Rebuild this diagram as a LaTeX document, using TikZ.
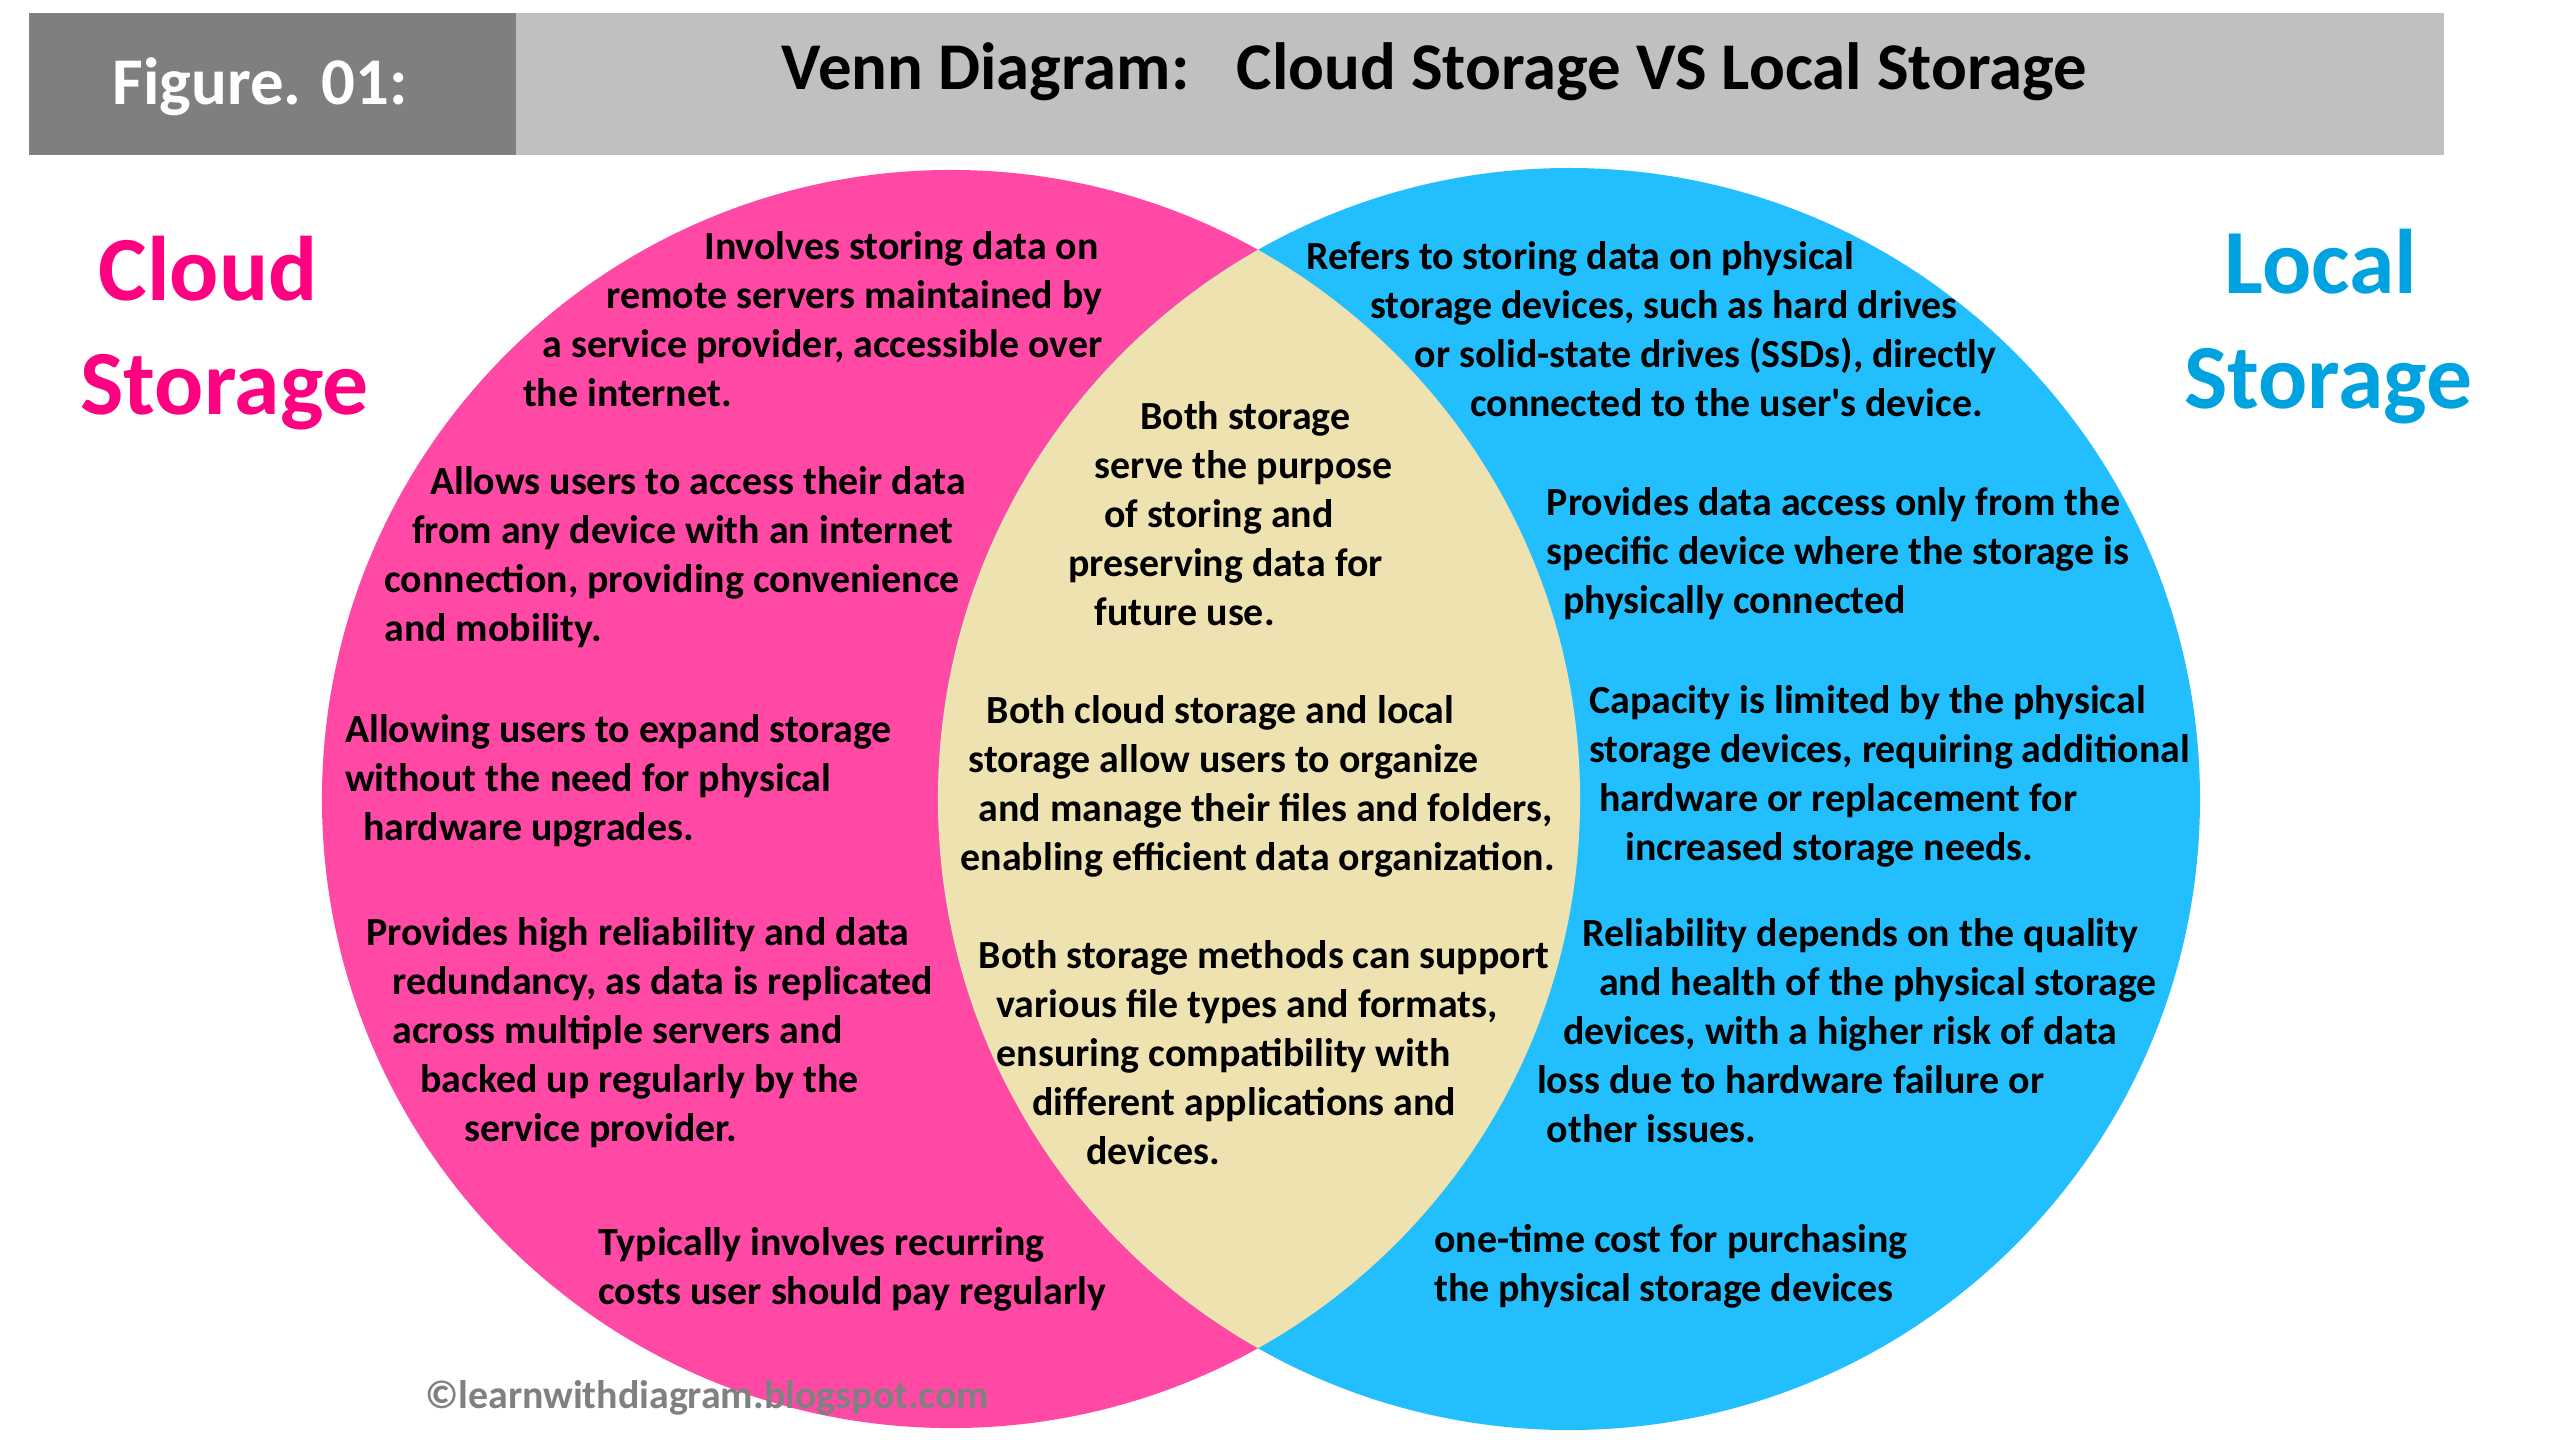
\documentclass[tikz,border=0pt]{standalone}
\usepackage{fontspec}
\setmainfont{Carlito}
\usepackage{xcolor}
\usetikzlibrary{positioning}
\definecolor{CloudPink}{RGB}{255,73,165}
\definecolor{LocalBlue}{RGB}{35,190,254}
\definecolor{BothSand}{RGB}{239,226,177}
\definecolor{CloudTitle}{RGB}{255,0,128}
\definecolor{LocalTitle}{RGB}{0,163,224}
\definecolor{BarLight}{RGB}{192,192,192}
\definecolor{BarDark}{RGB}{127,127,127}
\definecolor{MarkGray}{RGB}{128,128,128}
\tikzset{
  % texte dans les cercles
  txt/.style={anchor=base west,inner sep=0,font=\fontsize{11.35}{13.94}\selectfont\bfseries},
  big title/.style={anchor=base,inner sep=0,font=\fontsize{26.1}{32}\selectfont\bfseries},
  bar title/.style={anchor=base,inner sep=0,font=\fontsize{19}{23}\selectfont\bfseries},
  % cercles
  set cloud/.style={fill=CloudPink},
  set local/.style={fill=LocalBlue},
  set both/.style={fill=BothSand}
}

\begin{document}
\begin{tikzpicture}[x=0.016327cm,y=-0.016327cm]
  \fill[white] (0,0) rectangle (1568,882);
  \useasboundingbox (0,0) rectangle (1568,882);

  % bandeau du haut
  \fill[BarLight] (18,8) rectangle (1497,95);
  \fill[BarDark] (18,8) rectangle (316,95);
  \node[bar title,white] (fig) at (159.5,64) {Figure. 01:};
  \node[bar title] (head) at (878.5,55) {Venn Diagram:\hspace{0.71em}Cloud Storage VS Local Storage};

  % les deux ensembles
  \coordinate (cloud) at (582.5,489.4);
  \coordinate (local) at (961,489.4);
  \fill[set cloud] (cloud) circle [radius=385.3];
  \fill[set local] (local) circle [radius=386.5];
  \begin{scope}
    \clip (cloud) circle [radius=385.3];
    \fill[set both] (local) circle [radius=386.5];
  \end{scope}

  \node[big title,CloudTitle] (cloudA) at (127.5,184) {Cloud};
  \node[big title,CloudTitle] (cloudB) at (137.5,254) {Storage};
  \node[big title,LocalTitle] (localA) at (1421.5,180) {Local};
  \node[big title,LocalTitle] (localB) at (1426,250) {Storage};

  % cloud storage
  \foreach \x/\y/\t [count=\i] in {
      431/159/{Involves storing data on},
      371/189/{remote servers maintained by},
      332/219/{a service provider, accessible over},
      320/249/{the internet.},
      263/303/{Allows users to access their data},
      252/333/{from any device with an internet},
      235/363/{connection, providing convenience},
      235/393/{and mobility.},
      211/455/{Allowing users to expand storage},
      211/485/{without the need for physical},
      222/515/{hardware upgrades.},
      224/579/{Provides high reliability and data},
      240/609/{redundancy, as data is replicated},
      240/639/{across multiple servers and},
      257/669/{backed up regularly by the},
      284/699/{service provider.},
      366/769/{Typically involves recurring},
      366/799/{costs user should pay regularly}}
    \node[txt] (cloud\i) at (\x,\y) {\t};

  % both
  \foreach \x/\y/\t [count=\i] in {
      698/263/{Both storage},
      670/293/{serve the purpose},
      676/323/{of storing and},
      654/353/{preserving data for},
      670/383/{future use.},
      604/443/{Both cloud storage and local},
      593/473/{storage allow users to organize},
      599/503/{and manage their files and folders,},
      588/533/{enabling efficient data organization.},
      599/593/{Both storage methods can support},
      610/623/{various file types and formats,},
      610/653/{ensuring compatibility with},
      632/683/{different applications and},
      665/713/{devices.}}
    \node[txt] (both\i) at (\x,\y) {\t};

  % local storage
  \foreach \x/\y/\t [count=\i] in {
      800/165/{Refers to storing data on physical},
      839/195/{storage devices, such as hard drives},
      866/225/{or solid-state drives (SSDs), directly},
      900/255/{connected to the user\textquotesingle s device.},
      947/316/{Provides data access only from the},
      947/346/{specific device where the storage is},
      957/376/{physically connected},
      973/437/{Capacity is limited by the physical},
      973/467/{storage devices, requiring additional},
      979/497/{hardware or replacement for},
      995/527/{increased storage needs.},
      969/580/{Reliability depends on the quality},
      979/610/{and health of the physical storage},
      957/640/{devices, with a higher risk of data},
      941/670/{loss due to hardware failure or},
      947/700/{other issues.},
      878/767/{one-time cost for purchasing},
      878/797/{the physical storage devices}}
    \node[txt] (local\i) at (\x,\y) {\t};

  \node[txt,MarkGray] (mark) at (260,863) {©learnwithdiagram.blogspot.com};
\end{tikzpicture}
\end{document}
